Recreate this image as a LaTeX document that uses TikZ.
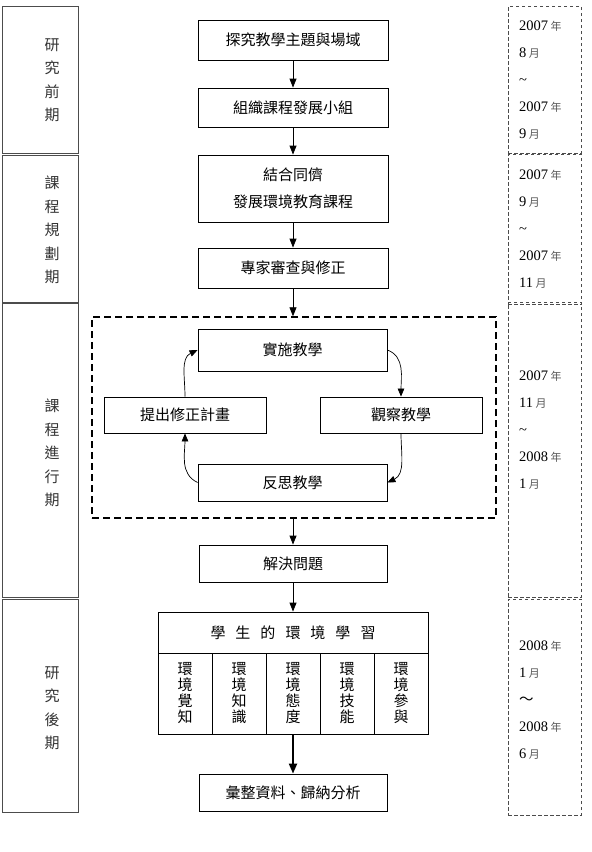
\documentclass[tikz,border=0pt]{standalone}
\usepackage{fontspec}
\setmainfont{Liberation Serif}
\newfontfamily\cjk{Noto Sans CJK TC}
\usetikzlibrary{arrows.meta}
\newcommand\dnian{\,{\cjk\fontsize{11}{11}\selectfont\color{black!65}年}}
\newcommand\dyue{\,{\cjk\fontsize{11}{11}\selectfont\color{black!65}月}}
\begin{document}
\begin{tikzpicture}[x=1pt,y=-1pt,
  box/.style={draw=black, line width=0.8pt, inner sep=0pt, align=center,
    font=\cjk\fontsize{15}{27}\selectfont},
  phase/.style={draw=black!70, line width=0.8pt, inner sep=0pt, minimum width=76pt},
  phasetxt/.style={font=\cjk\fontsize{15}{23.5}\selectfont, text=black!80, align=center, inner sep=0pt},
  datebox/.style={draw=black!70, dash pattern=on 3.5pt off 2.5pt, line width=0.8pt, inner sep=0pt, minimum width=73pt},
  datetxt/.style={font=\fontsize{14.5}{27}\selectfont, align=left, anchor=west, inner sep=0pt},
  col/.style={draw=black, line width=0.8pt, inner sep=0pt, minimum width=54pt, minimum height=81pt,
    align=center, font=\cjk\fontsize{15}{16}\selectfont},
  arr/.style={-{Triangle[length=9pt,width=7pt]}, line width=0.8pt},
  carr/.style={-{Triangle[length=8pt,width=6.5pt]}, line width=0.7pt}
]
\useasboundingbox (0,0) rectangle (592,852);

% left phase column
\node[phase, minimum height=147pt] (p1) at (40,79.5) {};
\node[phase, minimum height=147pt] (p2) at (40,228.5) {};
\node[phase, minimum height=294pt] (p3) at (40,450) {};
\node[phase, minimum height=213pt] (p4) at (40,705.5) {};
\node[phasetxt] (p1t) at (52,80) {研\\究\\前\\期};
\node[phasetxt] (p2t) at (52,230) {課\\程\\規\\劃\\期};
\node[phasetxt] (p3t) at (52,453) {課\\程\\進\\行\\期};
\node[phasetxt] (p4t) at (52,708) {研\\究\\後\\期};

% right date column
\node[datebox, minimum height=147pt] (d1) at (544.5,79.5) {};
\node[datebox, minimum height=150pt] (d2) at (544.5,229) {};
\node[datebox, minimum height=295pt] (d3) at (544.5,449.5) {};
\node[datebox, minimum height=216pt] (d4) at (544.5,707) {};
\node[datetxt] (d1t) at (519,80) {2007\dnian\\8\dyue\\\textasciitilde\\2007\dnian\\9\dyue};
\node[datetxt] (d2t) at (519,229) {2007\dnian\\9\dyue\\\textasciitilde\\2007\dnian\\11\dyue};
\node[datetxt] (d3t) at (519,430) {2007\dnian\\11\dyue\\\textasciitilde\\2008\dnian\\1\dyue};
\node[datetxt] (d4t) at (519,700) {2008\dnian\\1\dyue\\{\cjk ～}\\2008\dnian\\6\dyue};

% main flow
\node[box, minimum width=190pt, minimum height=40pt] (b1) at (293,40) {探究教學主題與場域};
\node[box, minimum width=190pt, minimum height=39pt] (b2) at (293,107.5) {組織課程發展小組};
\node[box, minimum width=190pt, minimum height=67pt] (b3) at (293,188.5) {結合同儕\\發展環境教育課程};
\node[box, minimum width=190pt, minimum height=40pt] (b4) at (293,268) {專家審查與修正};

\node[draw=black, line width=1.4pt, dash pattern=on 7pt off 4pt, inner sep=0pt,
  minimum width=404pt, minimum height=201pt] (cyc) at (294,417.5) {};
\node[box, minimum width=189pt, minimum height=42pt] (c1) at (292.5,350) {實施教學};
\node[box, minimum width=162pt, minimum height=36pt] (c2) at (401,415) {觀察教學};
\node[box, minimum width=189pt, minimum height=37pt] (c3) at (292.5,482.5) {反思教學};
\node[box, minimum width=162pt, minimum height=36pt] (c4) at (185,415) {提出修正計畫};

\node[box, minimum width=188pt, minimum height=37pt] (b5) at (293,563.5) {解決問題};
\node[box, minimum width=270pt, minimum height=41pt] (h) at (293,632.5)
  {學\hspace{10pt}生\hspace{10pt}的\hspace{10pt}環\hspace{10pt}境\hspace{10pt}學\hspace{10pt}習};
\node[col] (k1) at (185,693.5) {環\\境\\覺\\知};
\node[col] (k2) at (239,693.5) {環\\境\\知\\識};
\node[col] (k3) at (293,693.5) {環\\境\\態\\度};
\node[col] (k4) at (347,693.5) {環\\境\\技\\能};
\node[col] (k5) at (401,693.5) {環\\境\\參\\與};
\node[box, minimum width=188pt, minimum height=37pt] (b6) at (293,792.5) {彙整資料、歸納分析};

% arrows
\draw[arr] (b1) -- (b2);
\draw[arr] (b2) -- (b3);
\draw[arr] (b3) -- (b4);
\draw[arr] (b4.south) -- (b4.south |- cyc.north);
\draw[arr] (b5.north |- cyc.south) -- (b5.north);
\draw[arr] (b5) -- (h);
\draw[-{Triangle[length=10pt,width=8pt]}, line width=2pt] (k3.south) -- (b6.north);

% cycle arrows
\draw[carr] (c1.east) to[out=-20,in=90] (c2.north);
\draw[carr] (c2.south) to[out=-90,in=25] (c3.east);
\draw[carr] (c3.west) to[out=155,in=-90] (c4.south);
\draw[carr] (c4.north) to[out=90,in=205] (c1.west);
\end{tikzpicture}
\end{document}
